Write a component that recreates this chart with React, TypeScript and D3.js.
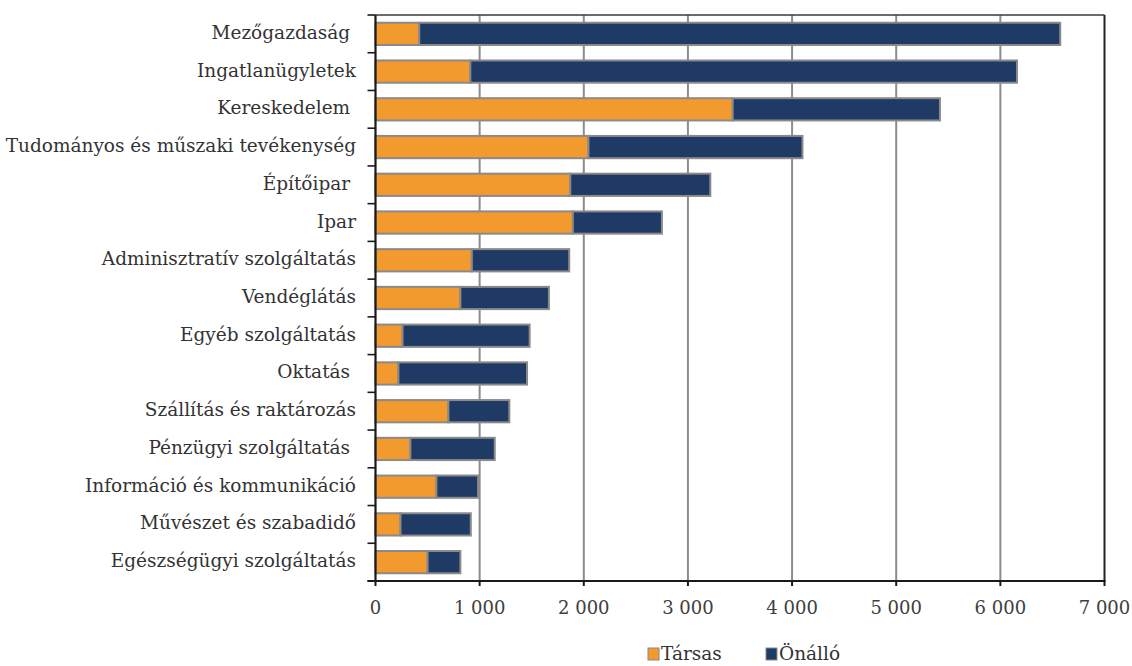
import React from "react";
import * as d3 from "d3";

const categories = [
  "Mezőgazdaság ",
  "Ingatlanügyletek",
  "Kereskedelem ",
  "Tudományos és műszaki tevékenység",
  "Építőipar ",
  "Ipar",
  "Adminisztratív szolgáltatás",
  "Vendéglátás",
  "Egyéb szolgáltatás",
  "Oktatás ",
  "Szállítás és raktározás",
  "Pénzügyi szolgáltatás ",
  "Információ és kommunikáció",
  "Művészet és szabadidő",
  "Egészségügyi szolgáltatás",
];
const tarsas = [420, 910, 3430, 2045, 1870, 1895, 925, 815, 260, 220, 700, 335, 585, 240, 500];
const onallo = [6155, 5250, 1990, 2055, 1345, 855, 935, 850, 1220, 1235, 585, 810, 400, 675, 315];
const seriesNames = ["Társas", "Önálló"];
const seriesColors = ["#F39A2E", "#1F3A64"];
const xTicks = [0, 1000, 2000, 3000, 4000, 5000, 6000, 7000];

const W = 1132, H = 666;
const left = 375.5, right = 1104.5, top = 15, bottom = 581;
const FONT = "'DejaVu Serif', serif";

export default function App() {
  const x = d3.scaleLinear().domain([0, 7000]).range([left, right]);
  const y = d3.scaleBand<string>().domain(categories).range([top, bottom]).paddingInner(0.41).paddingOuter(0.205);
  const yb = d3.scaleBand<string>().domain(categories).range([top, bottom]);
  const data = categories.map((c, i) => ({ c, vals: [tarsas[i], onallo[i]] }));
  const stack = d3.stack<any>().keys(["0", "1"]).value((d: any, k: string) => d.vals[+k]);
  const stacked = stack(data);
  const fmt = (v: number) => (v >= 1000 ? d3.format(",")(v).replace(/,/g, " ") : String(v));
  const bounds = categories.map((c) => yb(c)!).concat([bottom]);
  const ts = { fontFamily: FONT, whiteSpace: "pre" as const };

  return (
    <svg width={W} height={H} style={{ position: "absolute", left: 0, top: 0, background: "#fff" }}>
      {xTicks.slice(1, -1).map((t) => (
        <line key={t} x1={x(t)} x2={x(t)} y1={top} y2={bottom} stroke="#8C8C8C" strokeWidth={2} />
      ))}
      <line x1={left} x2={right} y1={top} y2={top} stroke="#3a3a3a" strokeWidth={1.5} />
      <line x1={right} x2={right} y1={top} y2={bottom} stroke="#222" strokeWidth={2} />
      {stacked.map((s, si) =>
        s.map((d, i) => (
          <rect
            key={si + "-" + i}
            x={x(d[0])}
            y={y(categories[i])}
            width={x(d[1]) - x(d[0])}
            height={y.bandwidth()}
            fill={seriesColors[si]}
            stroke="#8A8A8A"
            strokeWidth={2}
          />
        ))
      )}
      <line x1={left} x2={left} y1={top} y2={bottom} stroke="#1a1a1a" strokeWidth={2.2} />
      {bounds.map((b, i) => (
        <line key={i} x1={left - 8} x2={left} y1={b} y2={b} stroke="#1a1a1a" strokeWidth={1.6} />
      ))}
      <line x1={left - 8} x2={right + 1} y1={bottom} y2={bottom} stroke="#1a1a1a" strokeWidth={2.2} />
      {xTicks.map((t) => (
        <line key={t} x1={x(t)} x2={x(t)} y1={bottom} y2={bottom + 5} stroke="#1a1a1a" strokeWidth={2} />
      ))}
      {xTicks.map((t) => (
        <text key={t} x={x(t)} y={bottom + 33} textAnchor="middle" fontSize={18} fill="#404040" style={ts}>
          {fmt(t)}
        </text>
      ))}
      {categories.map((c) => (
        <text
          key={c}
          x={356}
          y={yb(c)! + yb.bandwidth() / 2 + 5}
          textAnchor="end"
          fontSize={18.5}
          fill="#333"
          style={ts}
        >
          {c}
        </text>
      ))}
      {seriesNames.map((n, i) => {
        const lx = i === 0 ? 648 : 766;
        return (
          <g key={n}>
            <rect x={lx} y={648} width={11} height={12} fill={seriesColors[i]} stroke="#8A8A8A" strokeWidth={1} />
            <text x={lx + 13} y={660} fontSize={18.5} fill="#333" style={ts}>
              {n}
            </text>
          </g>
        );
      })}
    </svg>
  );
}
